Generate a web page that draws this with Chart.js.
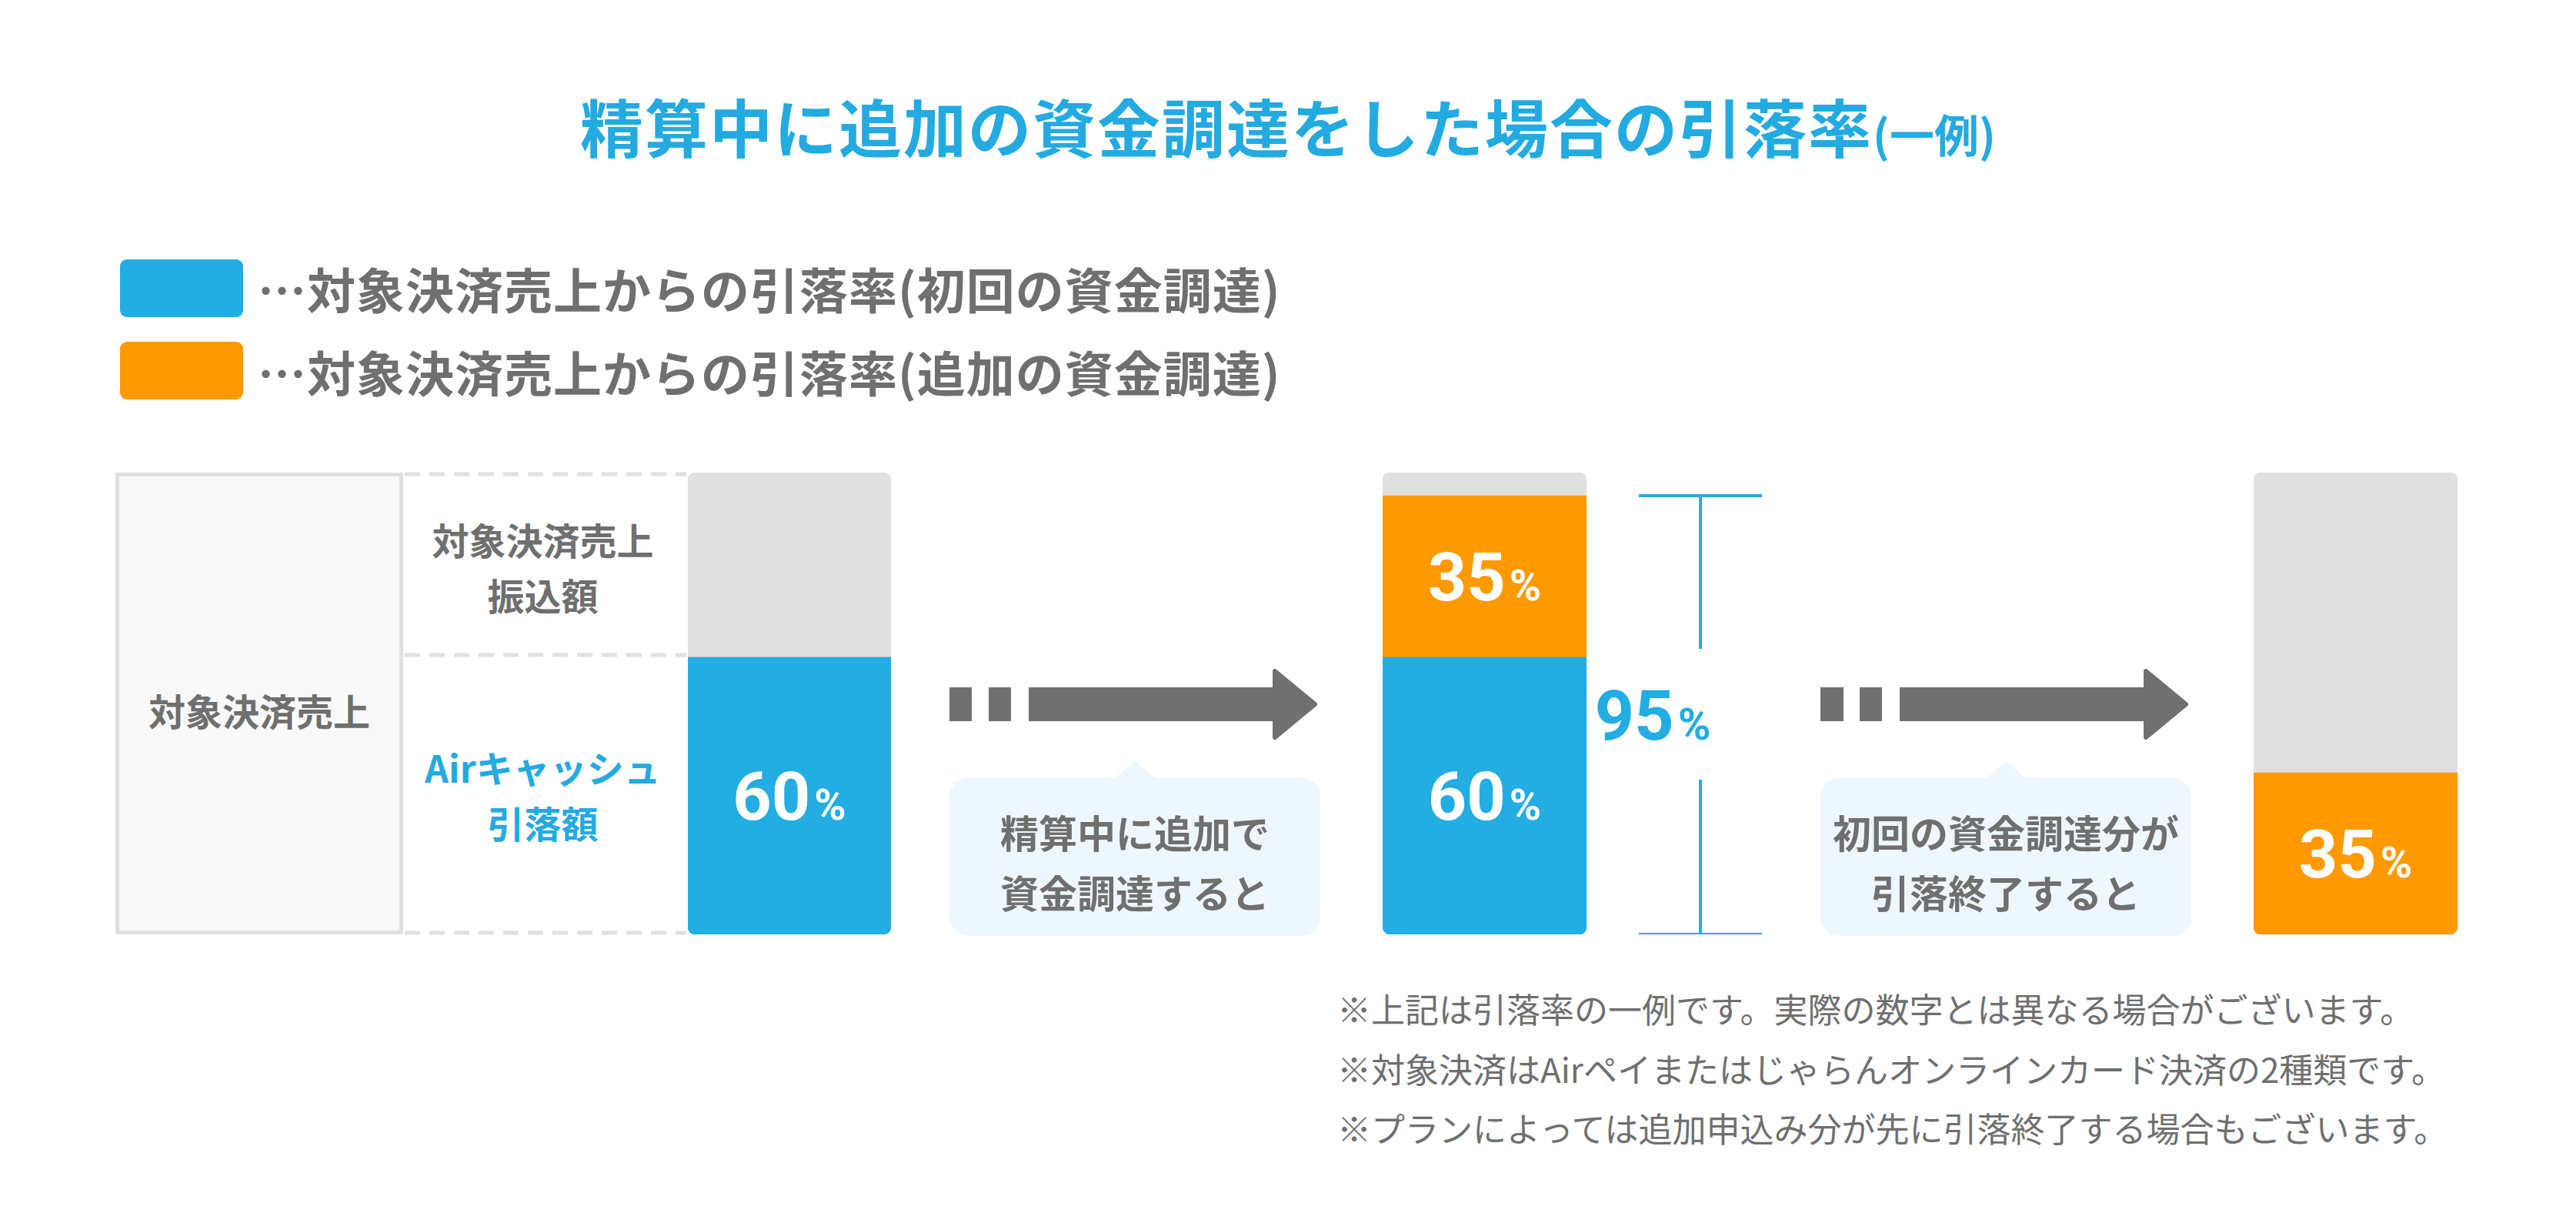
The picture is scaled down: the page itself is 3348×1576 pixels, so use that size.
<!DOCTYPE html>
<html lang="ja">
<head>
<meta charset="utf-8">
<title>精算中に追加の資金調達をした場合の引落率</title>
<script src="https://cdn.jsdelivr.net/npm/chart.js@4.4.1/dist/chart.umd.min.js"></script>
<style>
  html, body { margin: 0; padding: 0; background: #fff; }
  body {
    width: 3348px; height: 1576px; position: relative; overflow: hidden;
    font-family: "Noto Sans CJK JP", "Noto Sans", sans-serif; color: #6f6f6f;
  }
  .abs { position: absolute; }
  .title {
    left: 0; width: 3348px; top: 113px; line-height: 100px; text-align: center;
    font-size: 82px; font-weight: 700; color: #23aae1; letter-spacing: 2px; white-space: nowrap;
  }
  .title small { font-size: 58px; letter-spacing: 0; }
  .swatch { left: 156px; width: 160px; height: 75px; border-radius: 9px; }
  .legend-text { left: 335px; font-size: 63px; font-weight: 700; line-height: 80px; white-space: nowrap; letter-spacing: 1px; }
  .tbl-box {
    left: 150px; top: 614px; width: 364px; height: 590px;
    background: #f9f9f9; border: 5px solid #e0e0e0;
  }
  .cell { font-size: 48px; font-weight: 700; line-height: 72px; text-align: center; white-space: nowrap; }
  .blue { color: #23aae1; }
  .callout {
    width: 482px; height: 205px; top: 1011px; background: #eef7fd; border-radius: 24px;
  }
  .callout::before {
    content: ""; position: absolute; left: 215px; top: -22px;
    border-left: 26px solid transparent; border-right: 26px solid transparent;
    border-bottom: 22px solid #eef7fd;
  }
  .callout-text {
    width: 482px; top: 1041px; font-size: 50px; font-weight: 700; line-height: 78px;
    text-align: center; white-space: nowrap;
  }
  .note { left: 1738px; font-size: 44px; line-height: 60px; white-space: nowrap; }
  .chart-box { top: 614px; height: 600px; }
</style>
</head>
<body>

<div class="abs title">精算中に追加の資金調達をした場合の引落率<small>(一例)</small></div>

<div class="abs swatch" style="top:337px;background:#22ade3"></div>
<div class="abs legend-text" style="top:334px">…対象決済売上からの引落率(初回の資金調達)</div>
<div class="abs swatch" style="top:444px;background:#fe9900"></div>
<div class="abs legend-text" style="top:442px">…対象決済売上からの引落率(追加の資金調達)</div>

<!-- left table -->
<div class="abs tbl-box"></div>
<svg class="abs" style="left:514px;top:600px" width="380" height="630">
  <g stroke="#e0e0e0" stroke-width="5" stroke-dasharray="20 12">
    <line x1="12" y1="16" x2="378" y2="16"/>
    <line x1="12" y1="251" x2="378" y2="251"/>
    <line x1="12" y1="612" x2="378" y2="612"/>
  </g>
</svg>
<div class="abs cell" style="left:150px;width:374px;top:886px">対象決済売上</div>
<div class="abs cell" style="left:524px;width:363px;top:664px">対象決済売上<br>振込額</div>
<div class="abs cell blue" style="left:524px;width:363px;top:960px">Airキャッシュ<br>引落額</div>

<!-- arrows -->
<svg class="abs" style="left:1234px;top:869px" width="482" height="92">
  <g fill="#707070">
    <rect x="0" y="24" width="29" height="44"/>
    <rect x="51" y="24" width="29" height="44"/>
    <rect x="103" y="24" width="320" height="44"/>
    <polygon points="423,3 475,46 423,89" stroke="#707070" stroke-width="6" stroke-linejoin="round"/>
  </g>
</svg>
<svg class="abs" style="left:2366px;top:869px" width="482" height="92">
  <g fill="#707070">
    <rect x="0" y="24" width="30" height="44"/>
    <rect x="51" y="24" width="29" height="44"/>
    <rect x="103" y="24" width="320" height="44"/>
    <polygon points="423,3 475,46 423,89" stroke="#707070" stroke-width="6" stroke-linejoin="round"/>
  </g>
</svg>

<!-- callouts -->
<div class="abs callout" style="left:1234px"></div>
<div class="abs callout-text" style="left:1234px">精算中に追加で<br>資金調達すると</div>
<div class="abs callout" style="left:2366px"></div>
<div class="abs callout-text" style="left:2366px">初回の資金調達分が<br>引落終了すると</div>

<!-- bars -->
<div class="abs chart-box" style="left:894px;width:264px"><canvas id="bar0"></canvas></div>
<div class="abs chart-box" style="left:1797px;width:503px"><canvas id="bar1"></canvas></div>
<div class="abs chart-box" style="left:2929px;width:265px"><canvas id="bar2"></canvas></div>

<div class="abs note" style="top:1280px">※上記は引落率の一例です。実際の数字とは異なる場合がございます。</div>
<div class="abs note" style="top:1358px">※対象決済はAirペイまたはじゃらんオンラインカード決済の2種類です。</div>
<div class="abs note" style="top:1435px">※プランによっては追加申込み分が先に引落終了する場合もございます。</div>

<script>
// stages shown left to right
const STAGES = ["調達時", "追加調達時", "初回分引落終了後"];
// % of target sales, per stage
const initialRate = [60, 60, 0];     // 初回の資金調達
const additionalRate = [0, 35, 35];  // 追加の資金調達
const transferRate = [40, 5, 65];    // 対象決済売上振込額 (remainder)

const BLUE = "#22ade3";
const ORANGE = "#fe9900";
const GRAY = "#e0e0e0";
const RADIUS = 10;

// round only the outer ends of each stacked column
function cornerRadius(ctx) {
  const sets = ctx.chart.data.datasets;
  const i = ctx.dataIndex;
  const nonZero = sets.map((d, k) => (d.data[i] > 0 ? k : -1)).filter((k) => k >= 0);
  const r = { topLeft: 0, topRight: 0, bottomLeft: 0, bottomRight: 0 };
  if (ctx.datasetIndex === nonZero[0]) { r.bottomLeft = RADIUS; r.bottomRight = RADIUS; }
  if (ctx.datasetIndex === nonZero[nonZero.length - 1]) { r.topLeft = RADIUS; r.topRight = RADIUS; }
  return r;
}

function drawPct(c, value, cx, cy, color, bigSize, smallSize) {
  c.save();
  c.fillStyle = color;
  c.textBaseline = "alphabetic";
  c.font = `700 ${bigSize}px Roboto, "Liberation Sans", sans-serif`;
  const num = String(value);
  const wNum = c.measureText(num).width;
  c.font = `700 ${smallSize}px Roboto, "Liberation Sans", sans-serif`;
  const wPct = c.measureText("%").width;
  const gap = 5;
  const x0 = cx - (wNum + gap + wPct) / 2;
  const base = cy + bigSize * 0.355;
  c.font = `700 ${bigSize}px Roboto, "Liberation Sans", sans-serif`;
  c.fillText(num, x0, base);
  c.font = `700 ${smallSize}px Roboto, "Liberation Sans", sans-serif`;
  c.fillText("%", x0 + wNum + gap, base);
  c.restore();
}

const pctLabels = {
  id: "pctLabels",
  afterDatasetsDraw(chart) {
    chart.data.datasets.forEach((ds, di) => {
      if (!ds.showPct) return;
      chart.getDatasetMeta(di).data.forEach((bar, j) => {
        const v = ds.data[j];
        if (!v) return;
        const { x, y, base } = bar.getProps(["x", "y", "base"], true);
        drawPct(chart.ctx, v, x, (y + base) / 2, "#fff", 88, 56);
      });
    });
  },
};

// total bracket to the right of the column (used on the middle stage)
const totalBracket = {
  id: "totalBracket",
  afterDraw(chart, args, opts) {
    if (!opts.show) return;
    const ys = chart.scales.y;
    const total = opts.total;
    const top = ys.getPixelForValue(total);
    const bottom = ys.getPixelForValue(0);
    const right = chart.chartArea.right;
    const lineX = right + 148;
    const mid = (top + bottom) / 2;
    const c = chart.ctx;
    c.save();
    c.strokeStyle = BLUE;
    c.lineWidth = 4;
    c.beginPath();
    c.moveTo(right + 68, top); c.lineTo(right + 228, top);
    c.moveTo(right + 68, bottom); c.lineTo(right + 228, bottom);
    c.moveTo(lineX, top); c.lineTo(lineX, mid - 86);
    c.moveTo(lineX, mid + 84); c.lineTo(lineX, bottom);
    c.stroke();
    c.restore();
    drawPct(c, total, right + 86, mid, BLUE, 90, 58);
  },
};

function buildStage(i, canvasId, padRight) {
  return new Chart(document.getElementById(canvasId), {
    type: "bar",
    data: {
      labels: [STAGES[i]],
      datasets: [
        { label: "初回の資金調達", data: [initialRate[i]], backgroundColor: BLUE, showPct: true },
        { label: "追加の資金調達", data: [additionalRate[i]], backgroundColor: ORANGE, showPct: true },
        { label: "対象決済売上振込額", data: [transferRate[i]], backgroundColor: GRAY },
      ],
    },
    options: {
      responsive: true,
      maintainAspectRatio: false,
      animation: false,
      devicePixelRatio: 1,
      layout: { padding: { left: 0, top: 0, bottom: 0, right: padRight } },
      datasets: {
        bar: {
          categoryPercentage: 1,
          barPercentage: 1,
          borderSkipped: false,
          borderWidth: 0,
          borderRadius: cornerRadius,
        },
      },
      plugins: {
        legend: { display: false },
        tooltip: { enabled: false },
        totalBracket: { show: padRight > 0, total: initialRate[i] + additionalRate[i] },
      },
      scales: {
        x: { stacked: true, display: false },
        y: { stacked: true, display: false, min: 0, max: 100 },
      },
    },
    plugins: [pctLabels, totalBracket],
  });
}

buildStage(0, "bar0", 0);
buildStage(1, "bar1", 238);
buildStage(2, "bar2", 0);
</script>
</body>
</html>
